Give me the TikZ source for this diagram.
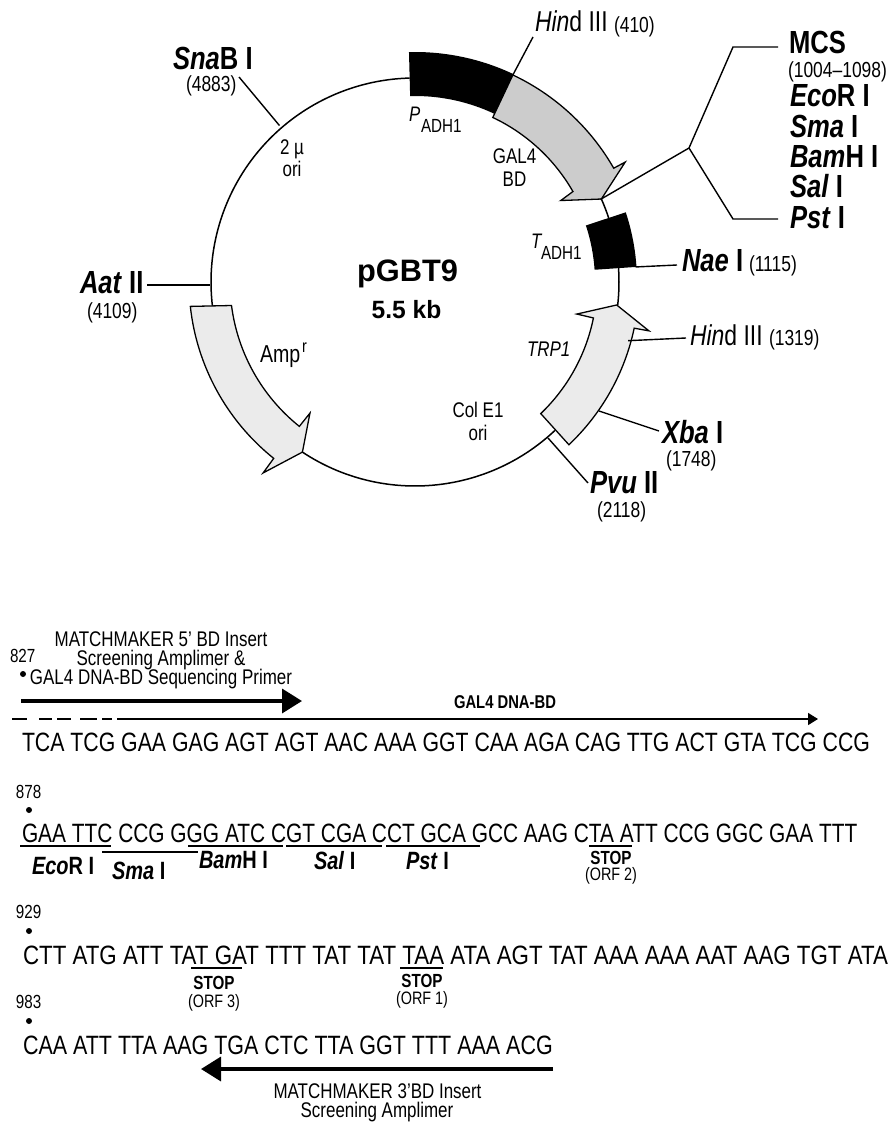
\documentclass[tikz,border=0pt]{standalone}
\usepackage{fontspec}
\usepackage{graphicx}
\setmainfont{Liberation Sans}[FakeStretch=0.80]
\usetikzlibrary{arrows.meta}
\newcommand\fs[1]{\fontsize{#1}{#1}\selectfont}
\newcommand\xs[2]{\scalebox{#1}[1]{#2}}
\newcommand\enz{\fs{32}\bfseries}
\newcommand\nor{\fs{21.2}}
\newcommand\digs{\fs{19}}
\newcommand\pos{\fs{21.8}}
\newcommand\orf{\fs{18}}
\newcommand\sq{\fs{26.5}}
\newcommand\cut{\fs{25}\bfseries}
\newcommand\stp{\fs{19}\bfseries}
\tikzset{
  T/.style={inner sep=0,outer sep=0,anchor=base west},
  C/.style={inner sep=0,outer sep=0,anchor=base},
  leader/.style={line width=1.4pt},
  backbone/.style={line width=1.5pt},
  feat/.style={draw=black,line width=1.3pt,line join=miter},
  ul/.style={line width=1.3pt},
}
\begin{document}
\begin{tikzpicture}[x=1pt,y=-1pt]
\useasboundingbox (0,0) rectangle (891,1123);
\coordinate (c) at (415,282);
\begin{scope}[x=1pt,y=1pt,shift={(c)}]
  % backbone
  \draw[backbone] (91.5:204) arc[start angle=91.5,end angle=186.8,radius=204];
  \draw[backbone] (236.5:204) arc[start angle=236.5,end angle=313.3,radius=204];
  \draw[backbone] (-6.5:204) arc[start angle=-6.5,end angle=3.9,radius=204];
  \draw[backbone] (18.2:204) arc[start angle=18.2,end angle=24,radius=204];
  % GAL4 BD
  \draw[feat,fill=black!20] (64.7:229) arc[start angle=64.7,end angle=29.8,radius=229]
     -- (29.7:242) -- (24:204) -- (29.2:167) -- (29.8:182)
     arc[start angle=29.8,end angle=64.7,radius=182] -- cycle;
  % P ADH1
  \fill[black] (91.5:230) arc[start angle=91.5,end angle=64.7,radius=230]
     -- (64.7:186) arc[start angle=64.7,end angle=91.5,radius=186] -- cycle;
  % T ADH1
  \fill[black] (18.3:222) arc[start angle=18.3,end angle=3.9,radius=222]
     -- (3.9:180) arc[start angle=3.9,end angle=18.3,radius=180] -- cycle;
  % Amp
  \draw[feat,fill=black!8] (186.2:226) arc[start angle=186.2,end angle=231.3,radius=226]
     -- (231.5:244) -- (236.5:204) -- (231.3:168) -- (231.3:185)
     arc[start angle=231.3,end angle=187.3,radius=185] -- cycle;
  % TRP1
  \draw[feat,fill=black!8] (-46.6:224) arc[start angle=-46.6,end angle=-11.9,radius=224]
     -- (-11.8:239) -- (-6.5:203) -- (-11.2:165) -- (-11.4:182)
     arc[start angle=-11.4,end angle=-46.3,radius=182] -- cycle;
  \coordinate (galtip) at (24:203);
  \coordinate (snaP) at (130.9:207);
  \coordinate (hindP) at (64.7:229);
  \coordinate (naeP) at (3.9:221);
  \coordinate (hindQ) at (-15.4:221);
\end{scope}
\coordinate (aatP) at (210,285);
\coordinate (aatL) at (147,285);
\coordinate (snaL) at (239,77);
\coordinate (hindL) at (533,37);
\coordinate (hub) at (689,148);
\coordinate (mcsA) at (733,47);
\coordinate (mcsB) at (778,47);
\coordinate (mcsC) at (733,219);
\coordinate (mcsD) at (778,219);
\coordinate (naeL) at (677,265);
\coordinate (hindR) at (686,338);
\coordinate (xbaP) at (599,411);
\coordinate (xbaL) at (659,431);
\coordinate (pvuP) at (548,438);
\coordinate (pvuL) at (588,483);
\draw[leader] (snaL) -- (snaP);
\draw[leader] (aatL) -- (aatP);
\draw[leader] (hindP) -- (hindL);
\draw[leader,line join=miter] (galtip) -- (hub) -- (mcsA) -- (mcsB);
\draw[leader,line join=miter] (hub) -- (mcsC) -- (mcsD);
\draw[leader] (naeP) -- (naeL);
\draw[leader] (hindQ) -- (hindR);
\draw[leader] (xbaP) -- (xbaL);
\draw[leader] (pvuP) -- (pvuL);
% plasmid labels
\node[T] (sna) at (173,70) {\enz\textit{Sna}B I};
\node[T] (snan) at (186,92) {\pos(4883)};
\node[T] (aat) at (80,293) {\enz\textit{Aat} II};
\node[T] (aatn) at (87,318) {\pos(4109)};
\node[T] (hd) at (535,32) {\fs{28.7}\textit{Hin}d III};
\node[T] (hdn) at (614,33) {\pos(410)};
\node[T] (mcs) at (789,54) {\enz MCS};
\node[T] (mcsn) at (788,78) {\pos(1004–1098)};
\node[T] (eco) at (790,107) {\enz\textit{Eco}R I};
\node[T] (sma) at (790,138) {\enz\textit{Sma} I};
\node[T] (bam) at (790,168) {\enz\textit{Bam}H I};
\node[T] (sal) at (790,198) {\enz\textit{Sal} I};
\node[T] (pst) at (790,229) {\enz\textit{Pst} I};
\node[T] (nae) at (682,271) {\enz\textit{Nae} I};
\node[T] (naen) at (749,271) {\pos(1115)};
\node[T] (hd2) at (690,345) {\fs{28.7}\textit{Hin}d III};
\node[T] (hd2n) at (769,345) {\pos(1319)};
\node[T] (xba) at (662,443) {\enz\textit{Xba} I};
\node[T] (xban) at (666,466) {\pos(1748)};
\node[T] (pvu) at (590,493) {\enz\textit{Pvu} II};
\node[T] (pvun) at (597,517) {\pos(2118)};
\node[C] (pg) at (407.5,281) {\xs{1.24}{\fs{31}\bfseries pGBT9}};
\node[C] (kb) at (406.5,318) {\xs{1.23}{\fs{25}\bfseries 5.5 kb}};
\node[T] (pa) at (409,122) {\fs{21}\textit{P}};
\node[T] (pas) at (421,133) {\digs ADH1};
\node[T] (ta) at (531,248) {\fs{21}\textit{T}};
\node[T] (tas) at (541,259) {\digs ADH1};
\node[C] (gal) at (514.5,164) {\nor GAL4};
\node[C] (bd) at (514.5,187) {\nor BD};
\node[C] (two) at (292,155) {\nor 2 µ};
\node[C] (ori) at (292,177) {\nor ori};
\node[T] (amp) at (260,362) {\fs{24.5}Amp};
\node[T] (ampr) at (302,352) {\fs{18}r};
\node[T] (trp) at (527,356) {\nor\textit{TRP1}};
\node[C] (col) at (478,417) {\nor Col E1};
\node[C] (ori2) at (478,440) {\nor ori};
% sequence block
\node[T] (n827) at (10,662) {\digs 827};
\fill (23,674) circle[radius=3];
\node[C] (pr1) at (161,646) {\nor MATCHMAKER 5' BD Insert};
\node[C] (pr2) at (161,665) {\nor Screening Amplimer \&};
\node[C] (pr3) at (161,684) {\nor GAL4 DNA-BD Sequencing Primer};
\coordinate (a1s) at (21,701);
\coordinate (a1e) at (302,701);
\draw[line width=3.5pt,-{Triangle[length=20pt,width=24pt]}] (a1s) -- (a1e);
\coordinate (d0) at (12,719);
\coordinate (d1) at (117,719);
\coordinate (d2) at (818,719);
\draw[line width=1.3pt,dash pattern=on 15pt off 12pt on 13pt off 5pt on 14pt off 9pt on 17pt off 5pt on 10pt off 5pt] (d0) -- (d1);
\draw[line width=1.5pt,-{Triangle[length=10pt,width=12pt]}] (d1) -- (d2);
\node[C] (gbd) at (505,708) {\fs{18.5}\bfseries GAL4 DNA-BD};
\node[T] (s1) at (22,751) {\xs{1.003}{\sq TCA TCG GAA GAG AGT AGT AAC AAA GGT CAA AGA CAG TTG ACT GTA TCG CCG}};
\node[T] (n878) at (16,798) {\digs 878};
\fill (29,810) circle[radius=3];
\node[T] (s2) at (22,842) {\xs{.985}{\sq GAA TTC CCG GGG ATC CGT CGA CCT GCA GCC AAG CTA ATT CCG GGC GAA TTT}};
\foreach \a/\b/\yy/\nm in {20/111/846/e,102/198/852/m,188/283/846/b,286/382/846/s,386/480/846/p,589/632/846/o}{
  \coordinate (u\nm a) at (\a,\yy);
  \coordinate (u\nm b) at (\b,\yy);
  \draw[ul] (u\nm a) -- (u\nm b);
}
\node[T] (ce) at (32,874) {\cut\textit{Eco}R I};
\node[T] (cs) at (112,879) {\cut\textit{Sma} I};
\node[T] (cb) at (199,868) {\cut\textit{Bam}H I};
\node[T] (cl) at (314,869) {\cut\textit{Sal} I};
\node[T] (cp) at (406,869) {\cut\textit{Pst} I};
\node[C] (st2) at (611,864) {\stp STOP};
\node[C] (or2) at (611,880) {\orf(ORF 2)};
\node[T] (n929) at (16,918) {\digs 929};
\fill (29,931) circle[radius=3];
\node[T] (s3) at (23,964) {\xs{1.053}{\sq CTT ATG ATT TAT GAT TTT TAT TAT TAA ATA AGT TAT AAA AAA AAT AAG TGT ATA}};
\coordinate (u3a) at (191,968);
\coordinate (u3b) at (242,968);
\coordinate (u1a) at (400,968);
\coordinate (u1b) at (443,968);
\draw[ul] (u3a) -- (u3b);
\draw[ul] (u1a) -- (u1b);
\node[C] (st3) at (214,989) {\stp STOP};
\node[C] (or3) at (214,1007) {\orf(ORF 3)};
\node[C] (st1) at (422,987) {\stp STOP};
\node[C] (or1) at (422,1004) {\orf(ORF 1)};
\node[T] (n983) at (16,1008) {\digs 983};
\fill (29,1021) circle[radius=3];
\node[T] (s4) at (23,1054) {\xs{1.013}{\sq CAA ATT TTA AAG TGA CTC TTA GGT TTT AAA ACG}};
\coordinate (a2s) at (553,1069);
\coordinate (a2e) at (201,1069);
\draw[line width=3.5pt,-{Triangle[length=20pt,width=24pt]}] (a2s) -- (a2e);
\node[C] (pr4) at (377.5,1098) {\nor MATCHMAKER 3'BD Insert};
\node[C] (pr5) at (377,1117.5) {\nor Screening Amplimer};
\end{tikzpicture}
\end{document}
